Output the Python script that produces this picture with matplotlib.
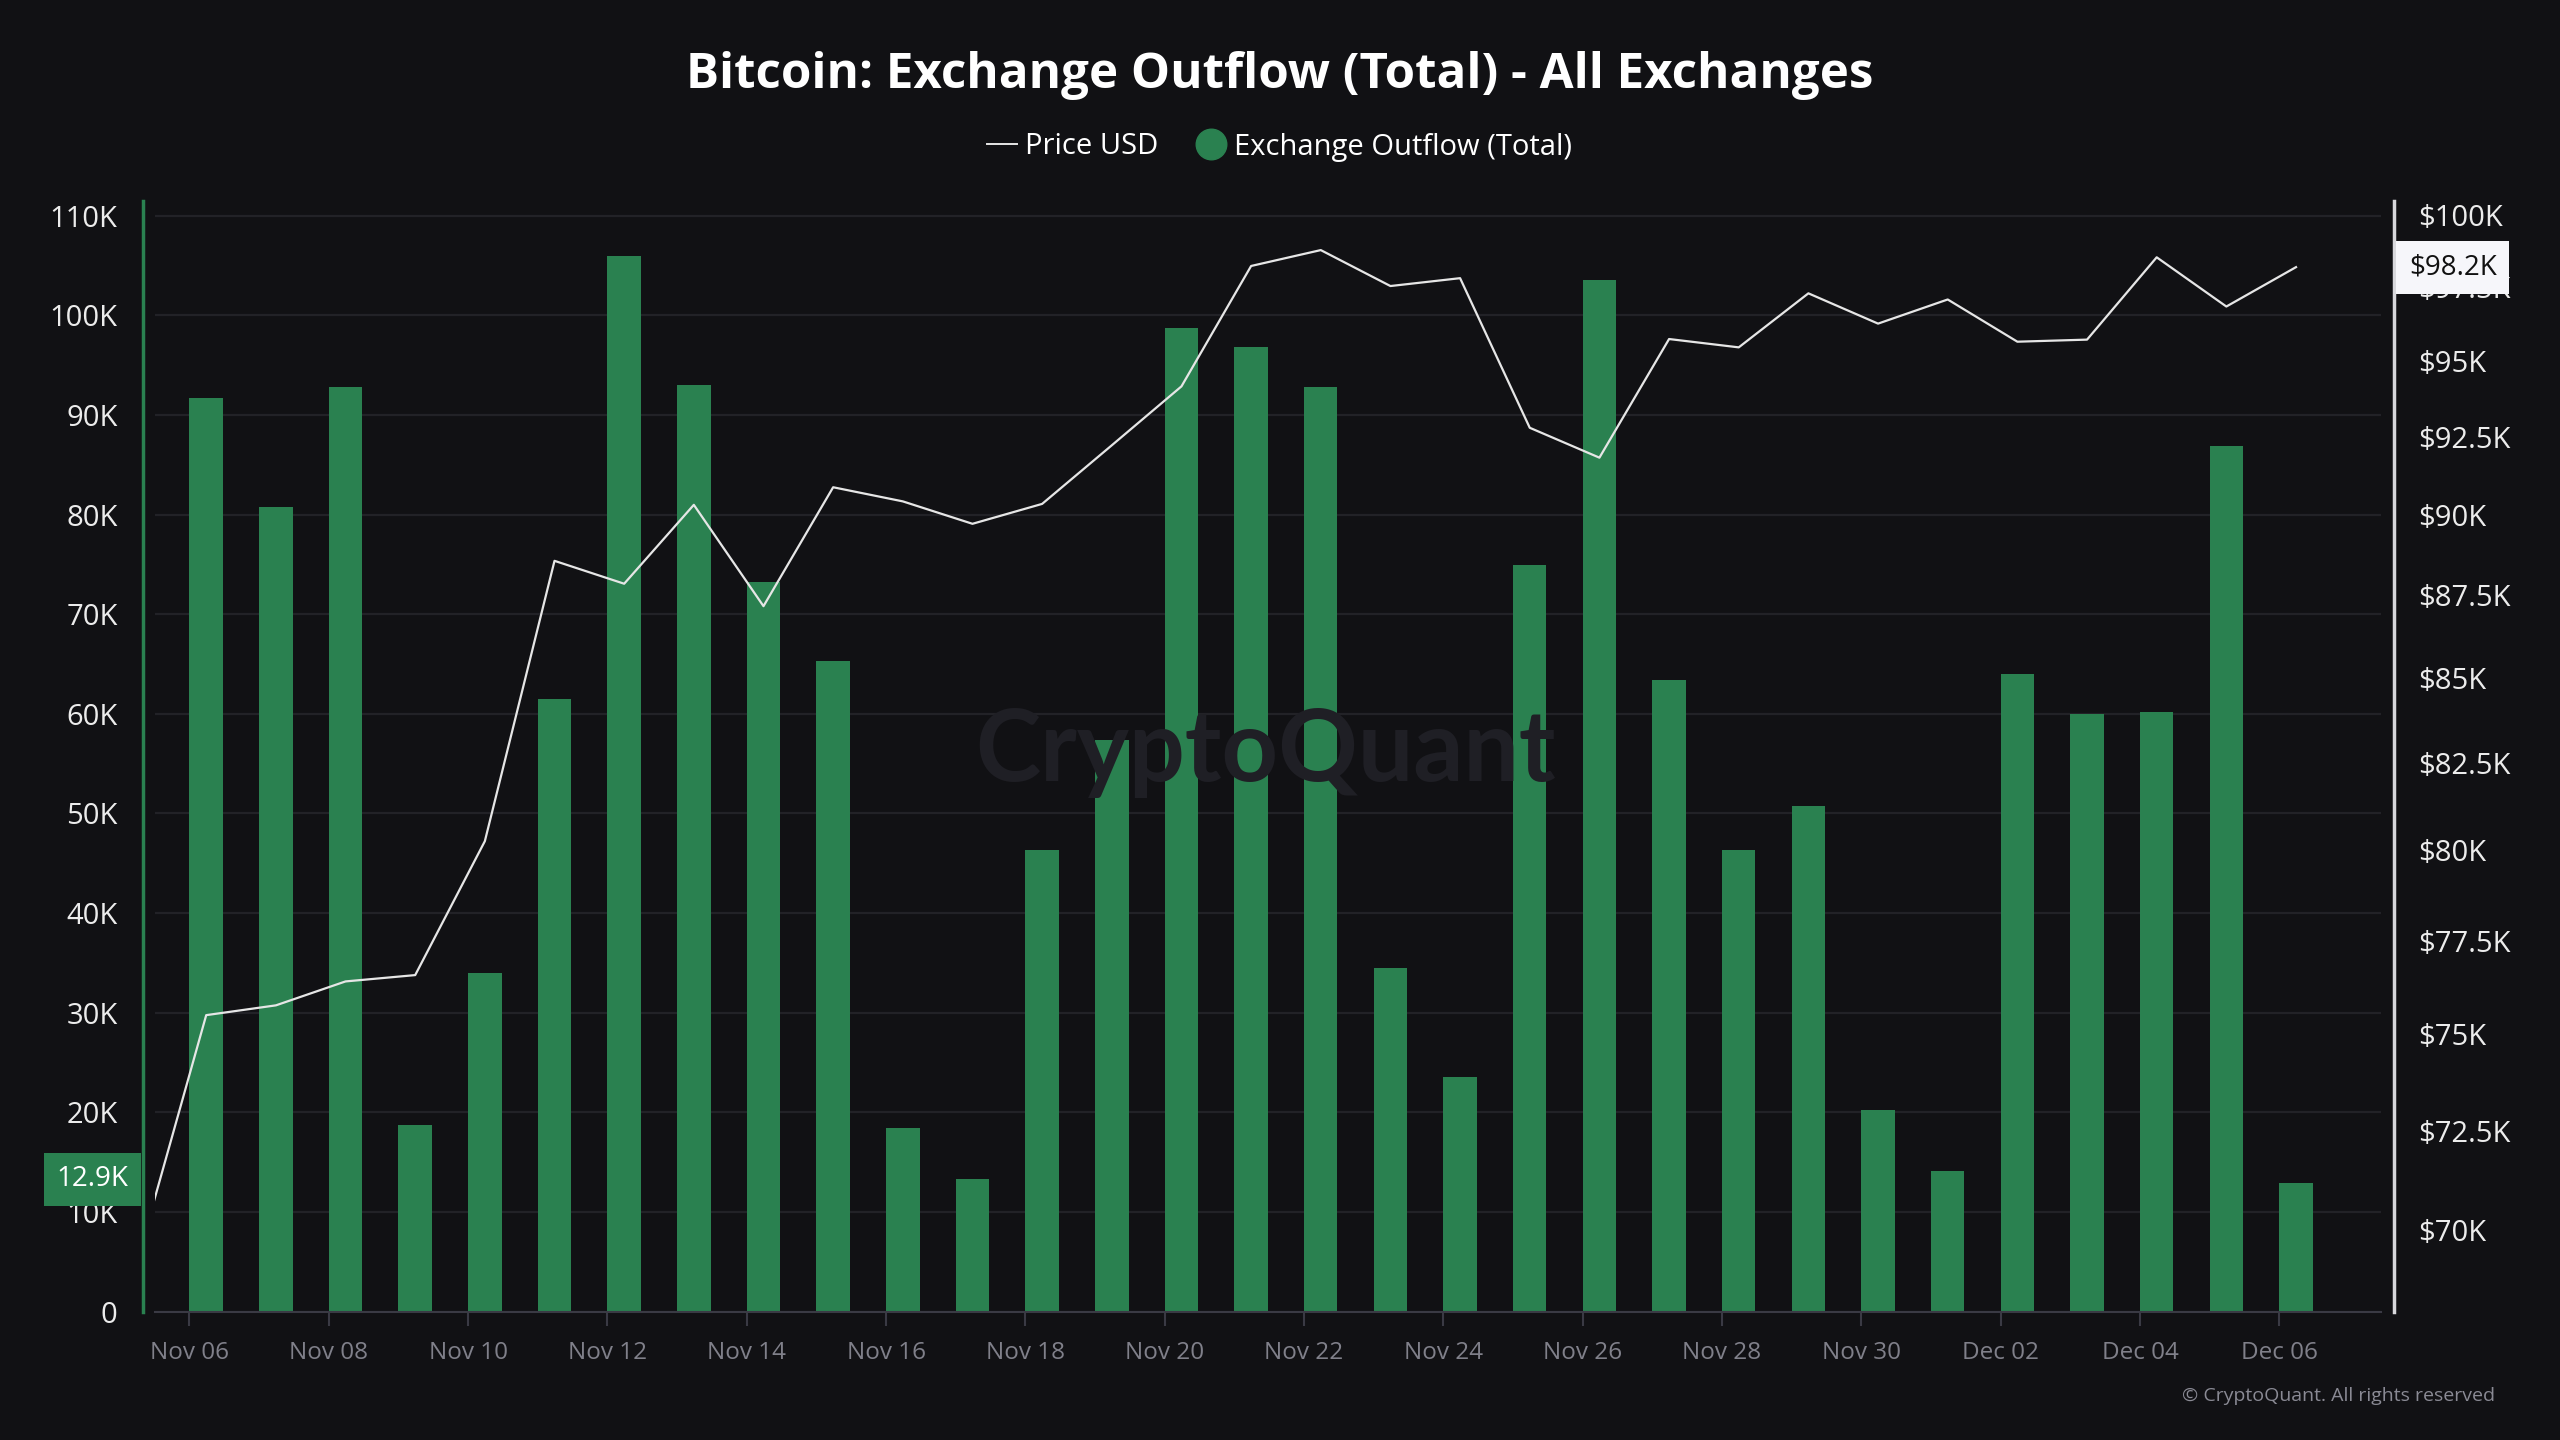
import matplotlib
matplotlib.use("Agg")
import matplotlib.pyplot as plt
from matplotlib.lines import Line2D
from matplotlib.ticker import FixedLocator, NullLocator
import matplotlib.transforms as mtransforms
import numpy as np

plt.rcParams['font.family'] = ['Open Sans', 'DejaVu Sans']

BG = '#111114'
GREEN = '#2a8150'
GRID = '#222227'

# daily data, Nov 05 .. Dec 06 (price), Nov 06 .. Dec 06 (outflow)
dates = ['Nov 06', 'Nov 07', 'Nov 08', 'Nov 09', 'Nov 10', 'Nov 11', 'Nov 12',
         'Nov 13', 'Nov 14', 'Nov 15', 'Nov 16', 'Nov 17', 'Nov 18', 'Nov 19',
         'Nov 20', 'Nov 21', 'Nov 22', 'Nov 23', 'Nov 24', 'Nov 25', 'Nov 26',
         'Nov 27', 'Nov 28', 'Nov 29', 'Nov 30', 'Dec 01', 'Dec 02', 'Dec 03',
         'Dec 04', 'Dec 05', 'Dec 06']
outflow = [91700, 80800, 92800, 18700, 34000, 61500, 105900, 93000, 73200, 65300,
           18400, 13300, 46300, 57400, 98700, 96800, 92800, 34500, 23500, 74900,
           103500, 63400, 46300, 50700, 20200, 14100, 64000, 60000, 60200, 86900,
           12900]
price_prev = 69200  # Nov 05, only the edge of it shows
price = [75500, 75760, 76400, 76570, 80260, 88570, 87860, 90330, 87170, 90890,
         90440, 89730, 90360, 92240, 94170, 98240, 98790, 97550, 97820, 92810,
         91840, 95750, 95470, 97300, 96270, 97090, 95660, 95730, 98540, 96850,
         98200]
left_ticks = [0, 10000, 20000, 30000, 40000, 50000, 60000, 70000, 80000, 90000, 100000, 110000]
left_labels = ['0', '10K', '20K', '30K', '40K', '50K', '60K', '70K', '80K', '90K', '100K', '110K']
right_ticks = [70000, 72500, 75000, 77500, 80000, 82500, 85000, 87500, 90000, 92500, 95000, 97500, 100000]
right_labels = ['$70K', '$72.5K', '$75K', '$77.5K', '$80K', '$82.5K', '$85K', '$87.5K',
                '$90K', '$92.5K', '$95K', '$97.5K', '$100K']

x = np.arange(len(dates))
bar_w = 0.48

fig = plt.figure(figsize=(25.6, 14.4), dpi=100, facecolor=BG)
ax = fig.add_axes([0.06055, 0.08917, 0.86953, 0.77146])
ax.patch.set_alpha(0)

# watermark
fig.text(0.4945, 1 - 752 / 1440, 'CryptoQuant', fontsize=71, family=['Lato', 'DejaVu Sans'],
         weight='bold', color='#1f1f25', ha='center', va='center', zorder=0)

ax.bar(x, outflow, width=bar_w, align='edge', color=GREEN, zorder=2)
ax.set_ylim(0, 111500)
ax.set_xlim(-0.495, 31.46)
ax.yaxis.set_major_locator(FixedLocator(left_ticks))
ax.set_yticklabels(left_labels)
ax.grid(axis='y', color=GRID, lw=1.6, zorder=0)
ax.set_axisbelow(True)
ax.set_xticks(x[::2])
ax.set_xticklabels(dates[::2])
ax.tick_params(axis='x', colors='#3a3a44', length=10, width=1.5, pad=11,
               labelsize=17.5, labelcolor='#80808a')
ax.tick_params(axis='y', length=0, pad=18, labelsize=21, labelcolor='#ececec')

for s in ['top', 'right']:
    ax.spines[s].set_visible(False)
ax.spines['bottom'].set_color('#3a3a44')
ax.spines['bottom'].set_linewidth(1.5)
ax.spines['left'].set_color(GREEN)
ax.spines['left'].set_linewidth(2.5)
ax.spines['left'].set_position(('outward', 9))

ax2 = ax.twinx()
ax2.set_yscale('log')
ax2.plot(np.concatenate([[x[0] - 1], x]) + bar_w / 2, [price_prev] + price,
         color='#e6e6e6', lw=1.6, zorder=3)
ax2.set_ylim(68030, 100520)
ax2.yaxis.set_major_locator(FixedLocator(right_ticks))
ax2.yaxis.set_minor_locator(NullLocator())
ax2.set_yticklabels(right_labels)
ax2.tick_params(axis='y', length=0, pad=18, labelsize=21, labelcolor='#ececec')
for s in ['top', 'left', 'bottom']:
    ax2.spines[s].set_visible(False)
ax2.spines['right'].set_color('#d8d8dc')
ax2.spines['right'].set_linewidth(2.5)
ax2.spines['right'].set_position(('outward', 9))

# last value labels on the axes
tr_l = mtransforms.blended_transform_factory(ax.transAxes, ax.transData)
ax.text(-0.012, outflow[-1] + 400, '12.9K', transform=tr_l, ha='right', va='center',
        fontsize=20, color='white', zorder=6, clip_on=False,
        bbox=dict(boxstyle='square,pad=0.45', fc=GREEN, ec='none'))
tr_r = mtransforms.blended_transform_factory(ax2.transAxes, ax2.transData)
ax2.text(1.0125, price[-1], '$98.2K', transform=tr_r, ha='left', va='center',
         fontsize=20, color='#111111', zorder=6, clip_on=False,
         bbox=dict(boxstyle='square,pad=0.45', fc='#f6f6fa', ec='none'))

fig.text(0.5, 1 - 76 / 1440, 'Bitcoin: Exchange Outflow (Total) - All Exchanges',
         ha='center', va='center', fontsize=35.5, weight='bold', color='white')

handles = [Line2D([], [], color='#e6e6e6', lw=1.4),
           Line2D([], [], color=GREEN, marker='o', ls='none', markersize=22)]
fig.legend(handles, ['Price USD', 'Exchange Outflow (Total)'], loc='center',
           bbox_to_anchor=(0.5, 1 - 147 / 1440), ncol=2, frameon=False,
           fontsize=21, labelcolor='white', handlelength=1.0, handletextpad=0.3,
           columnspacing=1.3)

fig.text(2495 / 2560, 1 - 1396 / 1440, '\u00a9 CryptoQuant. All rights reserved',
         ha='right', va='center', fontsize=14, color='#8a8a94')

fig.savefig('out.png', dpi=100, facecolor=BG)
